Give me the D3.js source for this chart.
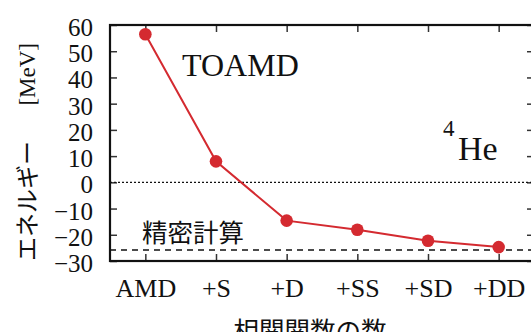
<!DOCTYPE html>
<html><head><meta charset="utf-8">
<script src="https://cdn.jsdelivr.net/npm/d3@7"></script>
<style>
html,body{margin:0;padding:0;background:#fff;overflow:hidden}
svg{display:block}
</style></head>
<body>
<svg id="c" width="531" height="332"></svg>
<script>
const categories = ["AMD", "+S", "+D", "+SS", "+SD", "+DD"];
const energies = [56.5, 8.0, -14.6, -18.1, -22.3, -24.7];
const exactEnergy = -25.8;
const yTicks = [-30, -20, -10, 0, 10, 20, 30, 40, 50, 60];
const yDomain = [-30, 60];

const SERIF = '"Liberation Serif"';
const CJK = '"Noto Sans CJK JP"';

const svg = d3.select("#c");
const L = 110, R = 534, T = 25, B = 261;

const x = d3.scalePoint().domain(categories).range([L, R]).padding(0.5);
const y = d3.scaleLinear().domain(yDomain).range([B, T]);

const tickColor = "#333";
function clean(g) {
  g.attr("font-family", null).attr("font-size", null);
  g.select(".domain").remove();
  g.selectAll(".tick line").attr("stroke", tickColor).attr("stroke-width", 1.5);
}
// left axis
const gl = svg.append("g").attr("transform", `translate(${L},0)`)
  .call(d3.axisLeft(y).tickValues(yTicks).tickSize(-7).tickPadding(0).tickFormat(d3.format("d")));
clean(gl);
gl.selectAll(".tick text").attr("x", -17).attr("dy", null).attr("y", 10.5)
  .style("font-family", SERIF).style("font-size", "25px").attr("fill", "#111").attr("text-anchor", "end");
// right axis ticks
const gr = svg.append("g").attr("transform", `translate(${R},0)`)
  .call(d3.axisRight(y).tickValues(yTicks).tickSize(-7).tickFormat(""));
clean(gr);
// bottom axis
const gb = svg.append("g").attr("transform", `translate(0,${B})`)
  .call(d3.axisBottom(x).tickSize(-7).tickPadding(0));
clean(gb);
gb.selectAll(".tick text").attr("y", 36).attr("dy", null)
  .style("font-family", SERIF).style("font-size", "26px").attr("fill", "#111");
// top ticks
const gt = svg.append("g").attr("transform", `translate(0,${T})`)
  .call(d3.axisTop(x).tickSize(-7).tickFormat(""));
clean(gt);

// zero dotted line
svg.append("line").attr("x1", L).attr("x2", R).attr("y1", y(0)).attr("y2", y(0))
  .attr("stroke", "#111").attr("stroke-width", 1.2).attr("stroke-dasharray", "2,2");
// exact dashed line
svg.append("line").attr("x1", L).attr("x2", R).attr("y1", y(exactEnergy)).attr("y2", y(exactEnergy))
  .attr("stroke", "#111").attr("stroke-width", 1.3).attr("stroke-dasharray", "6,5");

// frame
svg.append("rect").attr("x", L).attr("y", T).attr("width", R - L).attr("height", B - T)
  .attr("fill", "none").attr("stroke", "#111").attr("stroke-width", 2.2);

// data line
const pts = categories.map((c, i) => [x(c), y(energies[i])]);
svg.append("path").attr("d", d3.line()(pts)).attr("fill", "none")
  .attr("stroke", "#d42a30").attr("stroke-width", 2);
svg.selectAll("circle.pt").data(pts).join("circle").attr("class", "pt")
  .attr("cx", d => d[0]).attr("cy", d => d[1]).attr("r", 6.3).attr("fill", "#d42a30");

// annotations
svg.append("text").attr("x", 182).attr("y", 76)
  .style("font-family", SERIF).style("font-size", "32px").attr("fill", "#111").text("TOAMD");
svg.append("text").attr("x", 443).attr("y", 136)
  .style("font-family", SERIF).style("font-size", "23px").attr("fill", "#111").text("4");
svg.append("text").attr("x", 458).attr("y", 160)
  .style("font-family", SERIF).style("font-size", "34px").attr("fill", "#111").text("He");
svg.append("text").attr("x", 142).attr("y", 241.5)
  .style("font-family", CJK).style("font-size", "25.5px").attr("fill", "#111").text("精密計算");

// axis titles
svg.append("text").attr("x", 310).attr("y", 340).attr("text-anchor", "middle")
  .style("font-family", CJK).style("font-size", "25.5px").attr("fill", "#111").text("相関関数の数");
const yl = svg.append("g").attr("transform", "translate(36,261) rotate(-90)");
yl.append("text").attr("x", 0).attr("y", 0)
  .style("font-family", CJK).style("font-size", "24px").attr("fill", "#111").text("エネルギー");
yl.append("text").attr("x", 218).attr("y", -1).attr("text-anchor", "end")
  .style("font-family", SERIF).style("font-size", "23px").attr("fill", "#111").text("[MeV]");
</script>
</body></html>
